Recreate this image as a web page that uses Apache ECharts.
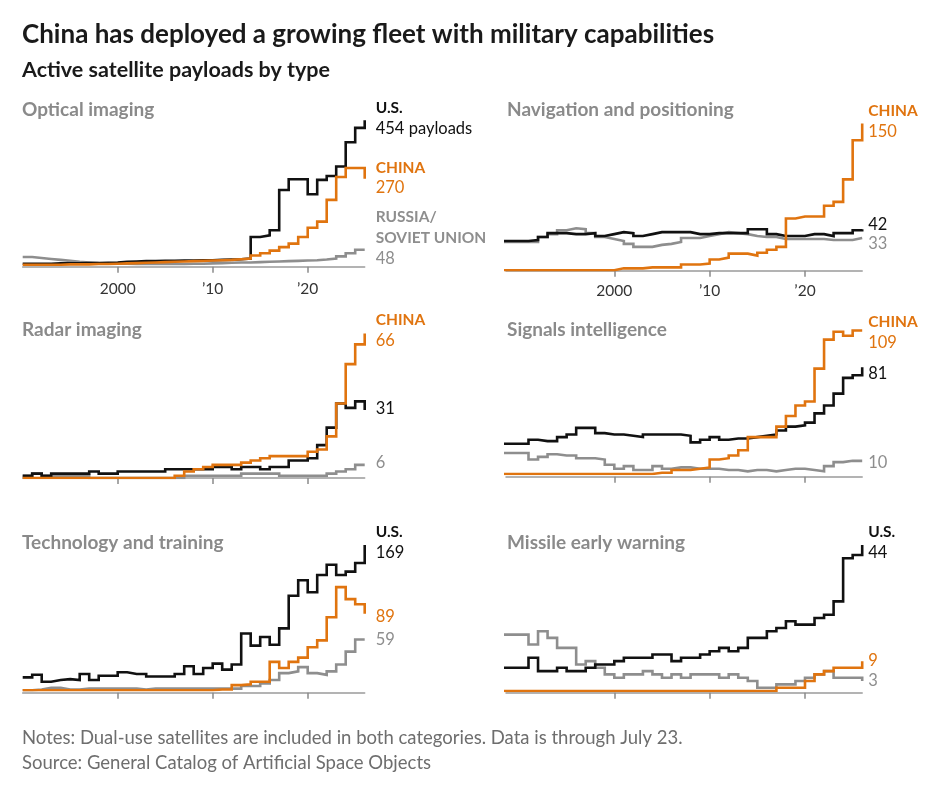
<!DOCTYPE html>
<html>
<head>
<meta charset="utf-8">
<script src="https://cdn.jsdelivr.net/npm/echarts@6/dist/echarts.min.js"></script>
<style>
html,body{margin:0;padding:0;background:#fff;}
#chart{width:936px;height:792px;}
</style>
</head>
<body>
<div id="chart"></div>
<script>
// ---------- DATA ----------
// Left column: yearly steps 1990..2025, last point (2026 edge) = value as of July 23, 2025
const yearsLeft = [1990,1991,1992,1993,1994,1995,1996,1997,1998,1999,2000,2001,2002,2003,2004,2005,2006,2007,2008,2009,2010,2011,2012,2013,2014,2015,2016,2017,2018,2019,2020,2021,2022,2023,2024,2025,2026];
// Right column: yearly steps 1988..2025, last point = current value
const yearsRight = [1988,1989,1990,1991,1992,1993,1994,1995,1996,1997,1998,1999,2000,2001,2002,2003,2004,2005,2006,2007,2008,2009,2010,2011,2012,2013,2014,2015,2016,2017,2018,2019,2020,2021,2022,2023,2024,2025,2026];

const tickYears = [2000, 2010, 2020];
const tickLabels = ['2000', '\u201910', '\u201920'];

const panelTitles = ['Optical imaging', 'Navigation and positioning', 'Radar imaging', 'Signals intelligence', 'Technology and training', 'Missile early warning'];

// Optical imaging
const opticalUS     = [4,4,4,5,5,5,6,6,7,8,10,11,12,12,13,13,14,14,15,15,16,17,18,20,88,93,109,235,269,269,222,267,279,309,385,430,454];
const opticalChina  = [1,1,1,1,2,2,2,3,3,4,5,6,7,8,9,10,11,12,13,14,15,16,18,20,30,37,45,56,67,88,117,136,204,276,304,304,270];
const opticalRussia = [25,22,19,16,13,10,8,6,5,4,4,3,3,3,3,3,3,4,4,5,6,7,8,8,9,10,11,12,13,14,15,17,20,27,37,48,48];

// Navigation and positioning
const navUS     = [30,30,30,31,34,38,38,37,37,38,35,37,39,38,35,37,39,39,39,39,37,37,38,38,38,38,42,42,37,35,35,35,37,37,35,38,38,41,42];
const navChina  = [0,0,0,0,0,0,0,0,0,0,0,0,2,2,2,3,3,3,3,6,6,7,11,13,17,17,15,18,21,24,53,55,55,55,66,70,93,133,150];
const navRussia = [29,29,29,29,34,37,41,43,42,38,34,32,30,27,24,24,26,27,29,33,33,35,37,39,38,37,35,34,34,32,32,32,32,32,31,31,31,33,33];

// Radar imaging
const radarUS     = [1,2,1,2,2,2,2,3,2,2,3,3,3,3,3,4,4,4,4,4,5,5,4,5,5,4,5,5,8,8,9,15,23,34,32,35,31];
const radarChina  = [0,0,0,0,0,0,0,0,0,0,0,0,0,0,0,0,1,3,4,5,6,6,6,7,8,9,10,10,10,10,12,13,19,34,52,61,66];
const radarRussia = [1,2,1,1,1,1,1,0,0,0,0,0,0,0,0,0,0,1,1,1,1,1,1,2,2,2,2,1,1,1,1,1,2,3,4,6,6];

// Signals intelligence
const sigintUS     = [23,23,23,26,25,25,28,30,35,35,31,30,30,29,28,30,30,30,30,29,24,26,28,26,27,27,28,29,30,33,36,37,39,46,52,61,73,75,81];
const sigintChina  = [0,0,0,0,0,0,0,0,0,0,0,0,0,0,0,0,1,1,3,3,4,5,11,12,14,18,28,28,28,36,44,52,55,80,102,108,105,109,109];
const sigintRussia = [16,16,16,11,13,15,14,14,12,12,11,7,4,6,3,3,6,4,5,5,4,4,4,3,3,2,3,3,2,3,4,4,3,2,6,9,10,10,10];

// Technology and training
const techUS     = [15,18,10,12,13,12,19,12,17,17,21,19,19,16,16,16,19,28,19,26,31,24,30,66,52,62,53,72,110,128,114,134,146,134,138,148,169];
const techChina  = [0,0,0,0,0,0,0,0,0,0,0,0,0,0,0,0,0,0,0,0,1,1,6,7,10,10,33,26,33,38,50,58,85,120,106,100,89];
const techRussia = [0,1,3,3,1,1,2,2,2,2,2,2,1,2,2,2,2,2,2,2,2,2,2,5,5,8,12,20,22,27,20,18,22,30,45,59,59];

// Missile early warning
const missileUS     = [7,7,7,10,6,6,7,6,6,7,8,8,9,10,10,10,11,11,9,10,10,11,12,13,12,13,16,16,18,19,21,20,20,22,23,27,40,41,44];
const missileChina  = [0,0,0,0,0,0,0,0,0,0,0,0,0,0,0,0,0,0,0,0,0,0,0,0,0,0,0,0,0,1,1,1,3,5,6,7,7,7,9];
const missileRussia = [17,17,17,14,18,16,13,13,8,9,7,5,4,5,5,6,5,4,5,4,5,5,5,4,5,4,3,1,1,2,2,3,4,5,6,4,4,4,3];

const notesText = 'Notes: Dual-use satellites are included in both categories. Data is through July 23.\nSource: General Catalog of Artificial Space Objects';

// ---------- STYLE / LAYOUT ----------
const FONT = 'Lato';
const COL = { us: '#111111', china: '#E0740F', russia: '#8E8E8E' };
const leftCol  = { left: 22.7, width: 342, xMin: 1990, labelGap: 11, titleX: 22 };
const rightCol = { left: 506, width: 356.2, xMin: 1988.64, labelGap: 6, titleX: 507 };

const panels = [
  { col: leftCol,  years: yearsLeft,  zero: 265,   scale: 0.319, yMax: 460, axisOffset: 1.7, titleY: 110, showLabels: true,  labelMargin: 14,
    us: opticalUS, china: opticalChina, russia: opticalRussia,
    lab: { us: { name: 'U.S.', suffix: ' payloads', dy: -2 }, china: { name: 'CHINA', dy: -1 }, russia: { name: 'RUSSIA/\nSOVIET UNION', dy: -12 } } },
  { col: rightCol, years: yearsRight, zero: 270.3, scale: 0.978, yMax: 155, axisOffset: 0.4, titleY: 110, showLabels: true, labelMargin: 12,
    us: navUS, china: navChina, russia: navRussia,
    lab: { us: { dy: -5 }, china: { name: 'CHINA', dy: -2 }, russia: { dy: 6 } } },
  { col: leftCol,  years: yearsLeft,  zero: 478,   scale: 2.19,  yMax: 70,  axisOffset: 0,   titleY: 330, showLabels: false,
    us: radarUS, china: radarChina, russia: radarRussia,
    lab: { us: { dy: -1 }, china: { name: 'CHINA', dy: -3 }, russia: { dy: -2 } } },
  { col: rightCol, years: yearsRight, zero: 474,   scale: 1.317, yMax: 115, axisOffset: 2.7, titleY: 330, showLabels: false,
    us: sigintUS, china: sigintChina, russia: sigintRussia,
    lab: { us: { dy: 6 }, china: { name: 'CHINA', dy: 1.5 }, russia: { dy: 1.5 } } },
  { col: leftCol,  years: yearsLeft,  zero: 690.3, scale: 0.86,  yMax: 175, axisOffset: 2.4, titleY: 543, showLabels: false,
    us: techUS, china: techChina, russia: techRussia,
    lab: { us: { name: 'U.S.', dy: -2.5 }, china: { dy: 3 }, russia: { dy: 0 } } },
  { col: rightCol, years: yearsRight, zero: 691,   scale: 3.318, yMax: 46,  axisOffset: 1.7, titleY: 543, showLabels: false,
    us: missileUS, china: missileChina, russia: missileRussia,
    lab: { us: { name: 'U.S.', dy: -3 }, china: { dy: 0 }, russia: { dy: 0 } } }
];

// ---------- BUILD OPTION ----------
const grids = [], xAxes = [], yAxes = [], series = [];
const titles = [
  { text: 'China has deployed a growing fleet with military capabilities', left: 22, top: 19, padding: 0,
    textStyle: { fontFamily: FONT, fontWeight: 'bold', fontSize: 26, lineHeight: 32, color: '#1a1a1a' } },
  { text: 'Active satellite payloads by type', left: 22, top: 57.5, padding: 0,
    textStyle: { fontFamily: FONT, fontWeight: 'bold', fontSize: 21.5, lineHeight: 25, color: '#1a1a1a' } },
  { text: notesText, left: 22, top: 725.5, padding: 0,
    textStyle: { fontFamily: FONT, fontWeight: 'normal', fontSize: 18.5, lineHeight: 25, color: '#6e6e6e' } }
];

function makeLabel(spec, color, gap) {
  return {
    show: true,
    distance: 0,
    offset: [gap, spec.dy || 0],
    formatter: function (p) {
      let s = '';
      if (spec.name) s += spec.name.split('\n').map(t => '{n|' + t + '}').join('\n') + '\n';
      s += '{v|' + p.value[1] + (spec.suffix || '') + '}';
      return s;
    },
    rich: {
      n: { fontFamily: FONT, fontWeight: 'bold', fontSize: 15.5, lineHeight: 20.5, color: color },
      v: { fontFamily: FONT, fontWeight: 'normal', fontSize: 16.5, lineHeight: 20.5, color: color }
    }
  };
}

panels.forEach((p, i) => {
  const h = p.yMax * p.scale;
  grids.push({ left: p.col.left, width: p.col.width, top: p.zero - h, height: h, containLabel: false });
  xAxes.push({
    gridIndex: i, type: 'value', min: p.col.xMin, max: 2026, offset: p.axisOffset,
    splitLine: { show: false },
    axisLine: { show: true, onZero: false, lineStyle: { color: '#9a9a9a', width: 1.5 } },
    axisTick: { show: true, customValues: tickYears, length: 6, lineStyle: { color: '#8a8a8a', width: 1.5 } },
    axisLabel: { show: p.showLabels, customValues: tickYears, margin: p.labelMargin || 12,
      formatter: v => tickLabels[tickYears.indexOf(v)] || '',
      fontFamily: FONT, fontSize: 15.5, color: '#333333' }
  });
  yAxes.push({ gridIndex: i, type: 'value', min: 0, max: p.yMax, show: false, splitLine: { show: false } });
  titles.push({ text: panelTitles[i], left: p.col.titleX, top: p.titleY - 12, padding: 0,
    textStyle: { fontFamily: FONT, fontWeight: 'bold', fontSize: 19, lineHeight: 24, color: '#8a8a8a' } });

  [['russia', p.russia], ['us', p.us], ['china', p.china]].forEach(([key, vals]) => {
    series.push({
      type: 'line', xAxisIndex: i, yAxisIndex: i, step: 'end',
      data: p.years.map((y, k) => [y, vals[k]]),
      showSymbol: false, symbol: 'none', silent: true, animation: false, clip: true,
      lineStyle: { color: COL[key], width: 2.6, join: 'miter', cap: 'butt' },
      itemStyle: { color: COL[key] },
      emphasis: { disabled: true },
      endLabel: makeLabel(p.lab[key], COL[key], p.col.labelGap)
    });
  });
});

const chart = echarts.init(document.getElementById('chart'), null, { renderer: 'canvas', width: 936, height: 792 });
chart.setOption({
  backgroundColor: '#ffffff',
  animation: false,
  title: titles,
  grid: grids,
  xAxis: xAxes,
  yAxis: yAxes,
  series: series
});
</script>
</body>
</html>
